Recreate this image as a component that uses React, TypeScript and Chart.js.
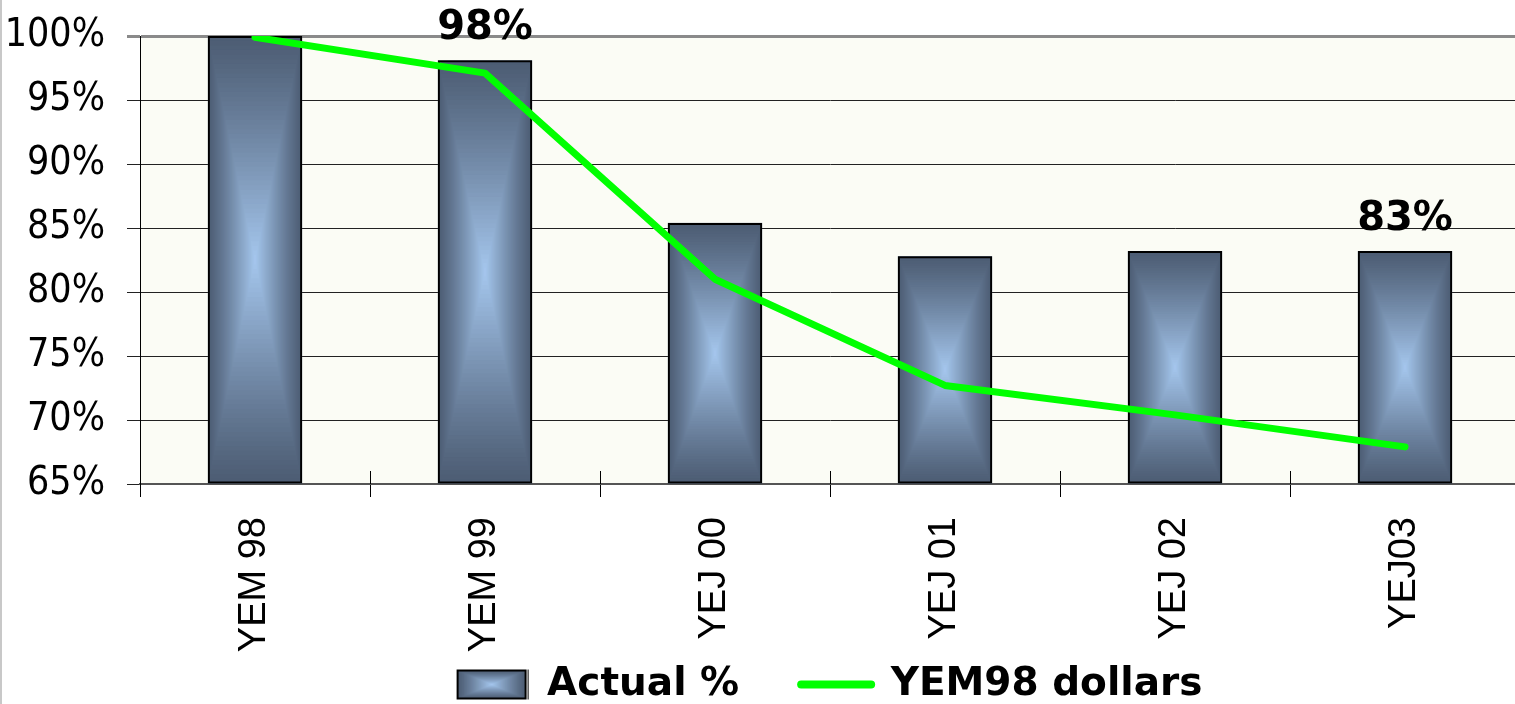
import React, { useEffect, useRef } from "react";
import { Chart, registerables } from "chart.js";

Chart.register(...registerables);

const categories = ["YEM 98", "YEM 99", "YEJ 00", "YEJ 01", "YEJ 02", "YEJ03"];
const actualPct = [100, 98.1, 85.4, 82.8, 83.2, 83.2];
const yem98Dollars = [99.9, 97.1, 81.0, 72.7, 70.4, 67.9];
const barLabels = ["", "98%", "", "", "", "83%"];
const seriesNames = ["Actual %", "YEM98 dollars"];
const yMin = 65;
const yMax = 100;
const yStep = 5;

const EDGE = [77, 93, 116];
const CENTER = [166, 200, 239];

function mix(t: number) {
  const c = EDGE.map((e, i) => Math.round(e + (CENTER[i] - e) * t));
  return `rgb(${c[0]},${c[1]},${c[2]})`;
}

function drawCenterGradient(ctx: CanvasRenderingContext2D, left: number, top: number, w: number, h: number) {
  const N = 48;
  const hw = w / 2;
  const hh = h / 2;
  for (let k = 0; k < N; k++) {
    const t = k / N;
    const ix = t * hw;
    const iy = t * hh;
    ctx.fillStyle = mix(Math.pow(t, 1.15));
    ctx.fillRect(left + ix, top + iy, w - 2 * ix, h - 2 * iy);
  }
}

const LEGEND_PAD = 62;

const plotBgPlugin = {
  id: "plotBg",
  afterLayout(chart: any) {
    // let the rotated category labels use the space below the axis box
    const xs = chart.scales.x;
    if (xs) xs.bottom = chart.height;
  },
  beforeDraw(chart: any) {
    const { ctx, chartArea } = chart;
    ctx.save();
    ctx.fillStyle = "#fbfcf5";
    ctx.fillRect(chartArea.left, chartArea.top, chartArea.right - chartArea.left, chartArea.bottom - chartArea.top);
    ctx.restore();
  },
};

const barGradientPlugin = {
  id: "barGradient",
  beforeDatasetDraw(chart: any, args: any) {
    if (args.index !== 0) return;
    const ctx = chart.ctx;
    const area = chart.chartArea;
    const meta = chart.getDatasetMeta(0);
    ctx.save();
    ctx.beginPath();
    ctx.rect(area.left, area.top, area.right - area.left, area.bottom - area.top);
    ctx.clip();
    meta.data.forEach((el: any) => {
      const p = el.getProps(["x", "y", "base", "width"], true);
      const left = p.x - p.width / 2;
      const top = Math.min(p.y, p.base);
      const h = Math.abs(p.base - p.y);
      drawCenterGradient(ctx, left, top, p.width, h);
    });
    ctx.restore();
  },
  afterDatasetsDraw(chart: any) {
    const ctx = chart.ctx;
    const meta = chart.getDatasetMeta(0);
    ctx.save();
    ctx.font = "bold 40px 'DejaVu Sans', sans-serif";
    ctx.fillStyle = "#000";
    ctx.textAlign = "center";
    ctx.textBaseline = "alphabetic";
    meta.data.forEach((el: any, i: number) => {
      const txt = barLabels[i];
      if (!txt) return;
      const p = el.getProps(["x", "y"], true);
      ctx.fillText(txt, p.x, p.y - 21);
    });
    // inner halves of x-axis cross ticks
    const xs = chart.scales.x;
    const area = chart.chartArea;
    const half = (xs.getPixelForValue(1) - xs.getPixelForValue(0)) / 2;
    ctx.strokeStyle = "#000";
    ctx.lineWidth = 1;
    for (let i = 0; i <= categories.length; i++) {
      const x = Math.round(xs.getPixelForValue(i) - half) + 0.5;
      ctx.beginPath();
      ctx.moveTo(x, area.bottom - 13);
      ctx.lineTo(x, area.bottom);
      ctx.stroke();
    }
    ctx.restore();
  },
  afterDraw(chart: any) {
    const legend = chart.legend;
    if (!legend || !legend.legendHitBoxes || !legend.legendHitBoxes[0]) return;
    const hb = legend.legendHitBoxes[0];
    const bw = 68;
    const bh = 28;
    const cy = hb.top + hb.height / 2;
    const ctx = chart.ctx;
    ctx.save();
    ctx.fillStyle = "#fff";
    ctx.fillRect(hb.left - 2, cy - bh / 2 - 2, bw + 4, bh + 4);
    drawCenterGradient(ctx, hb.left, cy - bh / 2, bw, bh);
    ctx.strokeStyle = "#000";
    ctx.lineWidth = 2;
    ctx.strokeRect(hb.left, cy - bh / 2, bw, bh);
    ctx.restore();
  },
};

export default function App() {
  const ref = useRef<HTMLCanvasElement | null>(null);

  useEffect(() => {
    if (!ref.current) return;
    const chart = new Chart(ref.current, {
      type: "bar",
      data: {
        labels: categories,
        datasets: [
          {
            type: "bar",
            label: seriesNames[0],
            data: actualPct,
            base: yMin,
            backgroundColor: "rgba(0,0,0,0)",
            borderColor: "#000",
            borderWidth: 2,
            borderSkipped: false,
            barPercentage: 0.41,
            categoryPercentage: 1,
            order: 1,
          } as any,
          {
            type: "line",
            label: seriesNames[1],
            data: yem98Dollars,
            borderColor: "#00ff00",
            backgroundColor: "#00ff00",
            borderWidth: 7,
            borderCapStyle: "round",
            borderJoinStyle: "round",
            pointRadius: 0,
            pointHoverRadius: 0,
            tension: 0,
            order: 0,
          } as any,
        ],
      },
      options: {
        responsive: false,
        devicePixelRatio: 1,
        animation: false,
        layout: { padding: { top: 36, right: 2, left: 0, bottom: -10 } },
        plugins: {
          tooltip: { enabled: false },
          title: { display: false },
          legend: {
            display: true,
            position: "bottom",
            fullSize: false,
            labels: {
              usePointStyle: true,
              pointStyleWidth: 70,
              boxHeight: 28,
              padding: LEGEND_PAD,
              color: "#000",
              font: { family: "'DejaVu Sans', sans-serif", size: 39, weight: "bold" },
              generateLabels: (chart: any) => {
                return chart.data.datasets.map((ds: any, i: number) => {
                  if (i === 0) {
                    return {
                      text: ds.label,
                      datasetIndex: 0,
                      pointStyle: "rect",
                      fillStyle: mix(0.5),
                      strokeStyle: "#000",
                      lineWidth: 2,
                      hidden: false,
                      fontColor: "#000",
                    };
                  }
                  return {
                    text: ds.label,
                    datasetIndex: i,
                    pointStyle: "line",
                    fillStyle: "#00ff00",
                    strokeStyle: "#00ff00",
                    lineWidth: 8,
                    lineCap: "round",
                    hidden: false,
                    fontColor: "#000",
                  };
                });
              },
            },
          },
        },
        scales: {
          x: {
            afterFit: (scale: any) => {
              scale.height = 181 - LEGEND_PAD;
            },
            grid: {
              display: true,
              drawOnChartArea: false,
              drawTicks: true,
              tickLength: 13,
              color: "#000",
              lineWidth: 1,
              offset: true,
            },
            border: { display: true, color: "#555", width: 2 },
            ticks: {
              color: "#000",
              minRotation: 90,
              maxRotation: 90,
              padding: 20,
              font: { family: "'Liberation Sans', Arial, sans-serif", size: 38 },
            },
          } as any,
          y: {
            min: yMin,
            max: yMax,
            afterFit: (scale: any) => {
              scale.width = 140;
              scale.paddingTop = 0;
              scale.paddingBottom = 0;
            },
            grid: {
              drawTicks: true,
              tickLength: 13,
              color: (c: any) => (c.tick && c.tick.value === yMax ? "#8a8a8a" : "#222"),
              lineWidth: (c: any) => (c.tick && c.tick.value === yMax ? 3 : 1),
            },
            border: { display: true, color: "#000", width: 1 },
            ticks: {
              stepSize: yStep,
              color: "#000",
              padding: 22,
              font: { family: "'DejaVu Sans Condensed', 'DejaVu Sans', sans-serif", size: 39 },
              callback: (v: any) => `${v}%`,
            },
          },
        },
      },
      plugins: [plotBgPlugin, barGradientPlugin],
    });
    return () => chart.destroy();
  }, []);

  return (
    <div
      style={{
        position: "fixed",
        left: 0,
        top: 0,
        width: 1515,
        height: 704,
        overflow: "hidden",
        background: "#fff",
      }}
    >
      <canvas ref={ref} width={1522} height={704} style={{ display: "block", width: 1522, height: 704 }} />
      <div style={{ position: "absolute", left: 0, top: 0, width: 2, height: 704, background: "#c8c8c8" }} />
    </div>
  );
}
